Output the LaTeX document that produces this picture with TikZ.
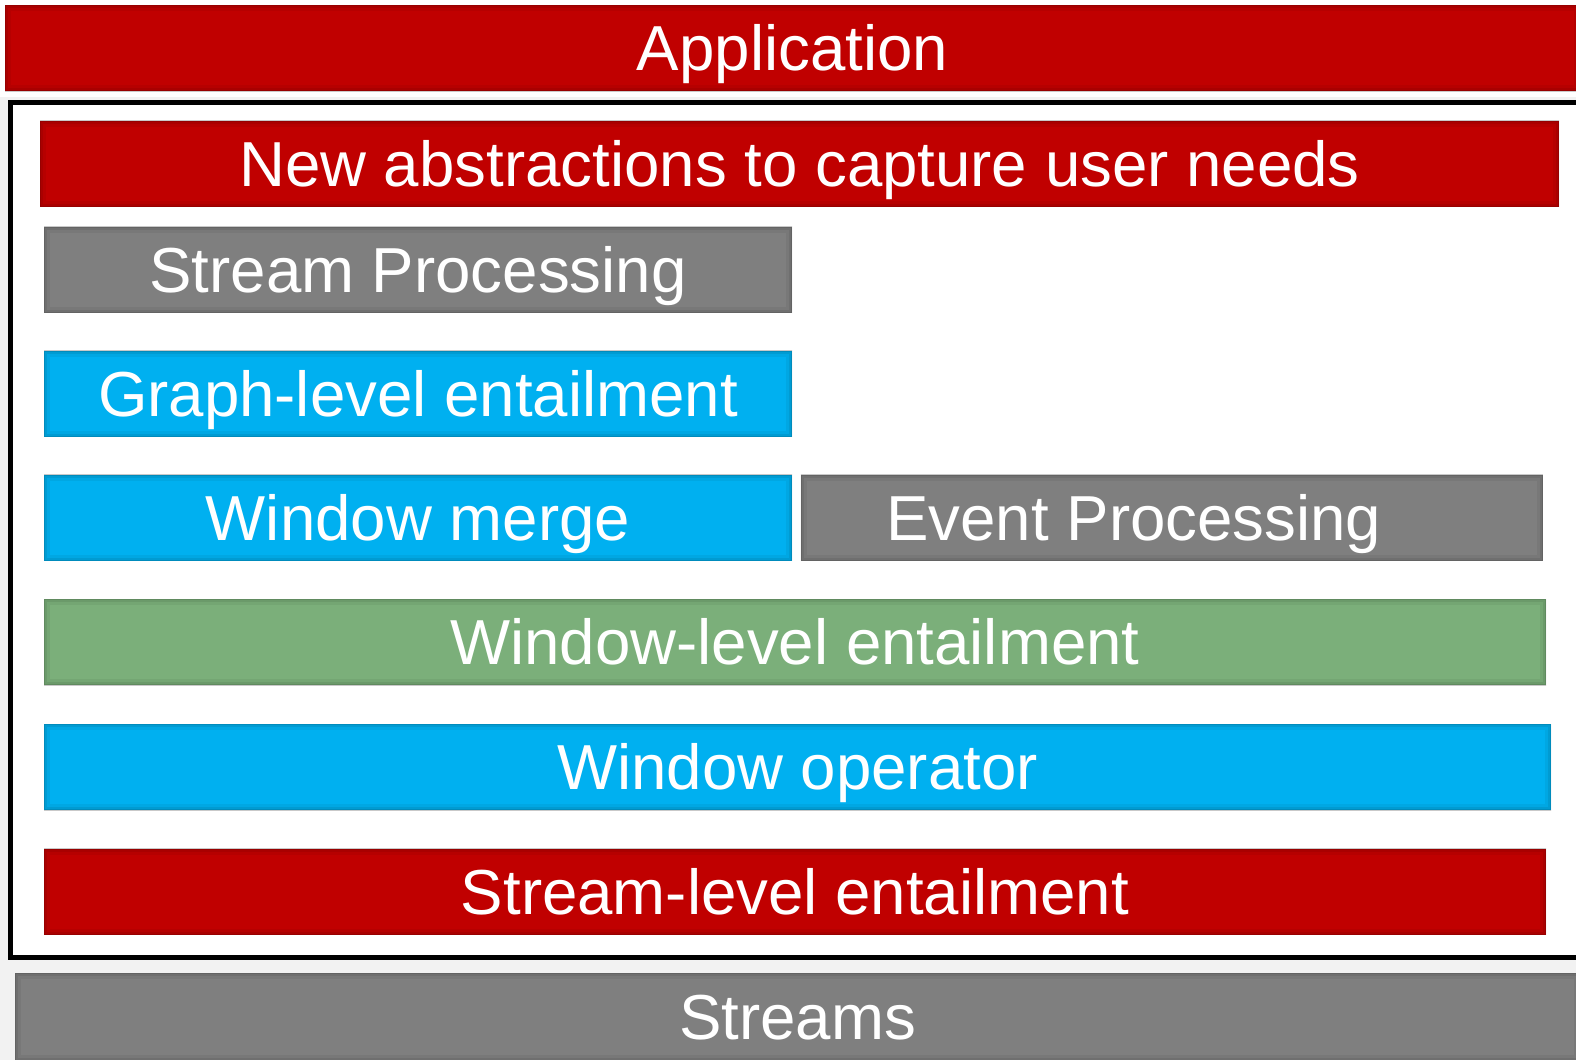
\documentclass[tikz,border=0pt]{standalone}
\usepackage{fontspec}
\setmainfont{Liberation Sans}
\usetikzlibrary{positioning}

\definecolor{layerred}{HTML}{C00000}
\definecolor{layergray}{HTML}{7F7F7F}
\definecolor{layerblue}{HTML}{00B0F0}
\definecolor{layergreen}{HTML}{7BAF7A}
\definecolor{slidebg}{HTML}{F2F2F2}
\newcommand{\layerfont}{\fontsize{31.8}{38}\selectfont}

\begin{document}
\begin{tikzpicture}[x=0.5pt,y=-0.5pt,node distance=62pt]
        \tikzstyle{layer}=[rectangle,minimum height=43pt,inner sep=0pt,text=white,
                           text height=22.8pt,text depth=0pt,font=\layerfont,
                           path picture={\foreach \w/\o in {6pt/0.05,3pt/0.07,1pt/0.1}
                             \draw[black,opacity=\o,line width=\w]
                             (path picture bounding box.south west) rectangle
                             (path picture bounding box.north east);}]
        \tikzstyle{redbox}=[layer,fill=layerred]
        \tikzstyle{graybox}=[layer,fill=layergray]
        \tikzstyle{bluebox}=[layer,fill=layerblue]
        \tikzstyle{greenbox}=[layer,fill=layergreen]

        \useasboundingbox (0,0) rectangle (1576,1060);
        \fill[slidebg] (0,97) rectangle (1576,1060);
        \draw[line width=2.5pt,fill=white] (10.5,102.5) rectangle (1600,957); % frame

        \node[redbox,minimum width=787.5pt]  (APP) at (792.5,48)    {Application};
        \node[redbox,minimum width=759.5pt]  (ABS) at (799.5,163.5) {New abstractions to capture user needs};
        \node[graybox,minimum width=374pt]   (SPR) at (418,269.5)   {Stream Processing};
        \node[bluebox,minimum width=374pt]   (GLE) [below of=SPR]   {Graph-level entailment};
        \node[bluebox,minimum width=374pt]   (WME) [below of=GLE]   {Window merge};
        \node[graybox,minimum width=371pt]   (EPR) [right=4pt of WME] {Event Processing\hspace*{38pt}};
        \node[greenbox,minimum width=751pt]  (WLE) at (795,642)     {Window-level entailment};
        \node[bluebox,minimum width=753.5pt] (WOP) at (797.5,767)   {Window operator};
        \node[redbox,minimum width=751pt]    (SLE) at (795,891.5)   {Stream-level entailment};
        \node[graybox,minimum width=782.5pt,minimum height=44pt] (STR) at (797.5,1017) {Streams};
\end{tikzpicture}
\end{document}
